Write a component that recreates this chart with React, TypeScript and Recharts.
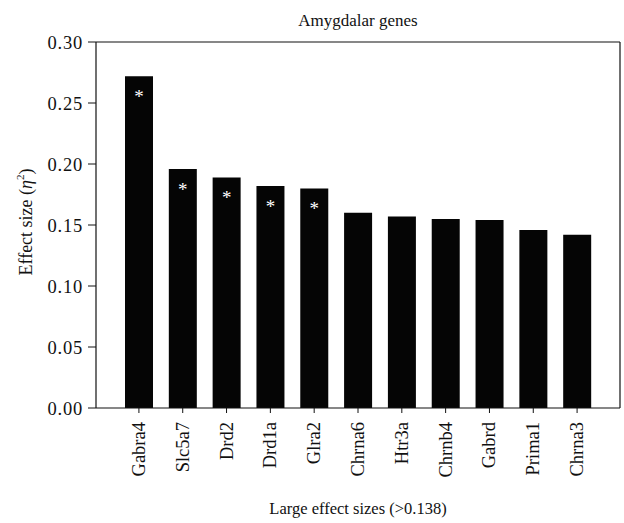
import { BarChart, Bar, XAxis, YAxis, ReferenceLine, LabelList } from "recharts";

const genes = ["Gabra4", "Slc5a7", "Drd2", "Drd1a", "Glra2", "Chrna6", "Htr3a", "Chrnb4", "Gabrd", "Prima1", "Chrna3"];
const effectSizes = [0.272, 0.196, 0.189, 0.182, 0.18, 0.16, 0.157, 0.155, 0.154, 0.146, 0.142];
const significant = [true, true, true, true, true, false, false, false, false, false, false];
const yTicks = [0, 0.05, 0.1, 0.15, 0.2, 0.25, 0.3];

const data = genes.map((gene, i) => ({ gene, value: effectSizes[i], star: significant[i] ? "*" : "" }));

const FONT = "'Liberation Serif', 'DejaVu Serif', serif";

function GeneTick(props: any) {
  const { x, y, payload } = props;
  return (
    <text
      x={x}
      y={y + 7}
      transform={`rotate(-90 ${x} ${y + 7})`}
      textAnchor="end"
      dominantBaseline="central"
      fontFamily={FONT}
      fontSize={18.5}
      fill="#111"
    >
      {payload.value}
    </text>
  );
}

function StarLabel(props: any) {
  const { x, y, width, value } = props;
  if (!value) return null;
  return (
    <text x={x + width / 2} y={y + 27} textAnchor="middle" fontFamily={FONT} fontSize={19} fill="#fff">
      {value}
    </text>
  );
}

function YTitle(props: any) {
  const vb = props.viewBox || {};
  const cx = (vb.x || 0) + 26;
  const cy = (vb.y || 0) + (vb.height || 0) / 2 - 3;
  return (
    <text x={cx} y={cy} transform={`rotate(-90 ${cx} ${cy})`} textAnchor="middle" dominantBaseline="central" fontFamily={FONT} fontSize={18} fill="#111">
      Effect size (<tspan fontStyle="italic">η</tspan>
      <tspan baselineShift="super" fontSize={11}>2</tspan>)
    </text>
  );
}

export default function App() {
  return (
    <div style={{ position: "absolute", left: 0, top: 0, width: 624, height: 523, background: "#fff" }}>
      <div
        style={{
          position: "absolute",
          left: 96,
          width: 524,
          top: 11,
          textAlign: "center",
          fontFamily: FONT,
          fontSize: 17,
          lineHeight: "20px",
          color: "#111",
        }}
      >
        Amygdalar genes
      </div>
      <BarChart width={624} height={523} data={data} margin={{ top: 42, right: 3, bottom: 0, left: 0 }} barSize={28}>
        <XAxis
          dataKey="gene"
          interval={0}
          height={115}
          padding={{ left: 21, right: 21 }}
          tick={<GeneTick />}
          tickSize={5}
          axisLine={{ stroke: "#111", strokeWidth: 1.2 }}
          tickLine={{ stroke: "#111" }}
          label={{ value: "Large effect sizes (>0.138)", position: "insideBottom", offset: 9, fontFamily: FONT, fontSize: 16.5, fill: "#111" }}
        />
        <YAxis
          domain={[0, 0.3]}
          ticks={yTicks}
          tickFormatter={(v: number) => v.toFixed(2)}
          width={96}
          tickSize={8}
          tickMargin={5}
          tick={{ fontFamily: FONT, fontSize: 18.5, fill: "#111", letterSpacing: 0.8 }}
          axisLine={{ stroke: "#111", strokeWidth: 1.2 }}
          tickLine={{ stroke: "#111" }}
          label={<YTitle />}
        />
        <YAxis
          yAxisId="right"
          orientation="right"
          domain={[0, 0.3]}
          width={1}
          tick={false}
          tickLine={false}
          axisLine={{ stroke: "#111", strokeWidth: 1.2 }}
        />
        <ReferenceLine y={0.3} stroke="#111" strokeWidth={1.2} />
        <Bar dataKey="value" fill="#050505" isAnimationActive={false}>
          <LabelList dataKey="star" content={<StarLabel />} />
        </Bar>
      </BarChart>
    </div>
  );
}
